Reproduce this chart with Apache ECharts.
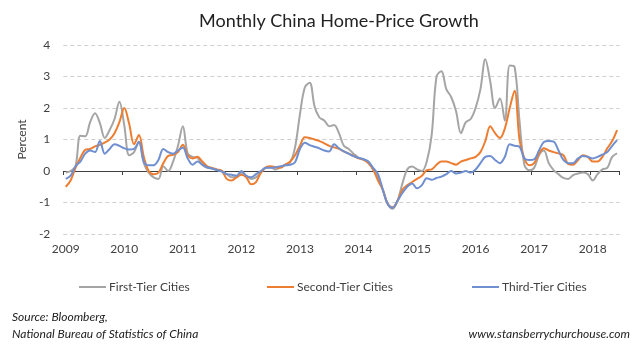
<!DOCTYPE html>
<html><head><meta charset="utf-8">
<script src="https://cdn.jsdelivr.net/npm/echarts/dist/echarts.min.js"></script>
<style>html,body{margin:0;padding:0;background:#fff}#c{width:640px;height:355px}</style>
</head><body><div id="c"></div>
<script>
const titleText = 'Monthly China Home-Price Growth';
const startYear = 2009;
const monthCount = 114;
const months = [];
for (let i = 0; i < monthCount; i++) {
  months.push((startYear + Math.floor(i / 12)) + '-' + String(i % 12 + 1).padStart(2, '0'));
}
const seriesNames = ['First-Tier Cities', 'Second-Tier Cities', 'Third-Tier Cities'];
const firstTier = [
-0.05, 0.0, 0.15, 1.12, 1.1, 1.55, 1.83, 1.52, 1.05, 1.3, 1.65, 2.2,
1.45, 0.5, 0.6, 0.93, 0.25, -0.05, -0.2, -0.25, 0.15, 0.0, 0.3, 0.8,
1.42, 0.55, 0.45, 0.42, 0.2, 0.1, 0.08, 0.03, 0.0, -0.1, -0.2, -0.2,
-0.05, -0.15, -0.25, -0.2, -0.05, 0.1, 0.12, 0.05, 0.12, 0.2, 0.28, 0.75,
1.8, 2.65, 2.8, 2.05, 1.7, 1.6, 1.42, 1.46, 1.2, 0.8, 0.7, 0.55,
0.42, 0.35, 0.3, 0.05, -0.2, -0.6, -1.05, -1.2, -0.95, -0.4, 0.05, 0.14,
0.05, 0.0, 0.3, 1.14, 3.0, 3.17, 2.6, 2.35, 1.9, 1.2, 1.55, 1.65,
2.0, 2.6, 3.55, 2.85, 2.0, 2.3, 1.6, 3.35, 3.3, 1.6, 0.2, 0.02,
0.1, 0.5, 0.65, 0.25, 0.03, -0.1, -0.22, -0.25, -0.13, -0.08, -0.05, -0.1,
-0.3, -0.1, 0.05, 0.1, 0.45, 0.56
];
const secondTier = [
-0.5, -0.3, 0.1, 0.42, 0.67, 0.7, 0.78, 0.83, 0.9, 1.0, 1.2, 1.55,
2.0, 1.5, 0.85, 1.14, 0.45, 0.0, -0.1, -0.05, 0.25, 0.48, 0.51, 0.6,
0.83, 0.5, 0.4, 0.45, 0.3, 0.15, 0.1, 0.05, 0.0, -0.25, -0.3, -0.2,
-0.12, -0.2, -0.42, -0.35, -0.05, 0.12, 0.15, 0.12, 0.1, 0.2, 0.3, 0.5,
0.8, 1.07, 1.05, 1.0, 0.95, 0.88, 0.8, 0.75, 0.7, 0.62, 0.55, 0.48,
0.4, 0.37, 0.25, 0.05, -0.3, -0.6, -1.05, -1.15, -0.95, -0.6, -0.45, -0.35,
-0.25, -0.15, 0.03, 0.05, 0.2, 0.3, 0.3, 0.25, 0.2, 0.3, 0.35, 0.4,
0.45, 0.6, 0.95, 1.42, 1.2, 1.05, 1.35, 2.0, 2.55, 1.0, 0.4, 0.18,
0.25, 0.55, 0.72, 0.65, 0.6, 0.56, 0.5, 0.22, 0.2, 0.35, 0.5, 0.45,
0.3, 0.3, 0.45, 0.72, 0.95, 1.3
];
const thirdTier = [
-0.25, -0.15, 0.15, 0.3, 0.55, 0.65, 0.6, 0.95, 0.55, 0.7, 0.85, 0.8,
0.72, 0.68, 0.7, 0.93, 0.3, 0.18, 0.18, 0.35, 0.7, 0.6, 0.55, 0.65,
0.75, 0.4, 0.2, 0.3, 0.2, 0.12, 0.08, 0.03, -0.02, -0.1, -0.12, -0.15,
0.0, -0.15, -0.2, -0.1, 0.0, 0.1, 0.1, 0.12, 0.15, 0.18, 0.2, 0.28,
0.7, 0.9, 0.82, 0.77, 0.72, 0.65, 0.62, 0.85, 0.72, 0.62, 0.55, 0.47,
0.42, 0.38, 0.3, 0.1, -0.1, -0.6, -1.05, -1.17, -0.95, -0.7, -0.5, -0.4,
-0.55, -0.45, -0.23, -0.28, -0.22, -0.18, -0.1, 0.0, -0.08, -0.05, 0.0, -0.05,
0.05, 0.25, 0.45, 0.48, 0.35, 0.25, 0.45, 0.85, 0.8, 0.77, 0.4, 0.35,
0.37, 0.65, 0.92, 0.95, 0.93, 0.65, 0.35, 0.25, 0.25, 0.4, 0.48, 0.45,
0.4, 0.45, 0.52, 0.6, 0.8, 0.98
];
const yMin = -2, yMax = 4, yStep = 1;
const colors = ['#A5A5A5', '#ED7D31', '#6F8FD0'];
const FONT = 'Lato';
const sourceLines = ['Source: Bloomberg,', 'National Bureau of Statistics of China'];
const siteText = 'www.stansberrychurchouse.com';

const chart = echarts.init(document.getElementById('c'), null, {renderer: 'canvas'});
const dataSets = [firstTier, secondTier, thirdTier];
const legendLeft = [74, 262, 467];
chart.setOption({
  animation: false,
  backgroundColor: '#ffffff',
  textStyle: {fontFamily: FONT},
  title: {
    text: titleText, left: 334, top: 7, textAlign: 'center',
    textStyle: {fontFamily: FONT, fontSize: 18, fontWeight: 'normal', color: '#222'}
  },
  grid: {left: 63.3, right: 20.5, top: 45, bottom: 121},
  legend: seriesNames.map((n, k) => ({
    data: [n], left: legendLeft[k], top: 276, icon: 'rect', itemWidth: 27, itemHeight: 2, itemGap: 4,
    textStyle: {fontFamily: FONT, fontSize: 12, color: '#404040', padding: [0, 0, 0, -2]}
  })),
  xAxis: {
    type: 'category', data: months, boundaryGap: true,
    axisLine: {onZero: true, lineStyle: {color: '#404040', width: 1}},
    axisTick: {show: true, length: 4, interval: (i) => i % 12 === 0, lineStyle: {color: '#404040'}},
    axisLabel: {interval: (i) => i % 12 === 0, formatter: (v) => v.slice(0, 4), margin: 9,
      color: '#404040', fontFamily: FONT, fontSize: 12},
    splitLine: {show: false}
  },
  yAxis: {
    type: 'value', min: yMin, max: yMax, interval: yStep,
    name: 'Percent', nameLocation: 'middle', nameGap: 27,
    nameTextStyle: {color: '#404040', fontFamily: FONT, fontSize: 12},
    axisLine: {show: false}, axisTick: {show: false},
    axisLabel: {color: '#404040', fontFamily: FONT, fontSize: 12, margin: 13},
    splitLine: {lineStyle: {color: '#d0d0d0', type: [4, 3], width: 1}}
  },
  series: seriesNames.map((n, k) => ({
    name: n, type: 'line', data: dataSets[k], smooth: 0.35, symbol: 'none',
    lineStyle: {color: colors[k], width: 2}, itemStyle: {color: colors[k]}
  })),
  graphic: [
    {type: 'text', left: 12, top: 311, style: {text: sourceLines[0], fontFamily: FONT, fontStyle: 'italic', fontSize: 12, fill: '#222'}},
    {type: 'text', left: 12, top: 328, style: {text: sourceLines[1], fontFamily: FONT, fontStyle: 'italic', fontSize: 12, fill: '#222'}},
    {type: 'text', right: 10, top: 328, style: {text: siteText, fontFamily: FONT, fontStyle: 'italic', fontSize: 12, fill: '#222'}}
  ]
});
</script></body></html>
